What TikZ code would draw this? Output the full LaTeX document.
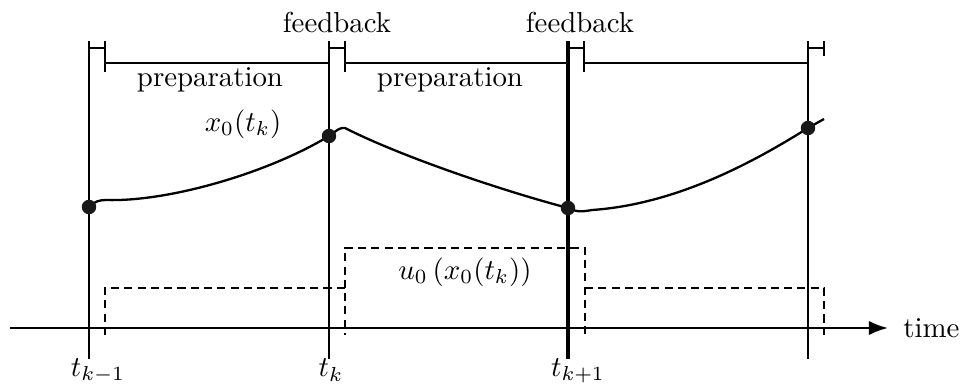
\documentclass[tikz,border=0pt]{standalone}
\usepackage{amsmath,amssymb}
\usepackage{tikz}
\usetikzlibrary{arrows.meta,calc}

\begin{document}
\begin{tikzpicture}[
    x=0.3466pt, y=-0.3466pt,
    >=Latex,
    stamp/.style    = {line width=1pt},
    stampk/.style   = {line width=1.4pt},
    bracket/.style  = {line width=1pt},
    traj/.style     = {line width=0.8pt},
    ctrl/.style     = {line width=0.8pt, dash pattern=on 2.8pt off 1.8pt},
    axis/.style     = {->, line width=0.8pt},
    dot/.style      = {circle, fill=black!90, inner sep=0pt, minimum size=5pt},
    lbl/.style      = {inner sep=1pt},
]
\useasboundingbox (0,0) rectangle (962,384);

% =============================== sampling instants ===========================
\foreach \x/\n/\s in {89/a/stamp, 329/b/stamp, 568/c/stampk, 808/d/stamp} {
    \coordinate (top\n) at (\x,41);
    \coordinate (bot\n) at (\x,359);
    \draw[\s] (top\n) -- (bot\n);
}

% =============================== preparation / feedback brackets =============
\foreach \x/\nx in {89/329, 329/568, 568/808} {
    \draw[bracket] (\x,48) -- (\x+16,48);
    \draw[bracket] (\x+16,41) -- (\x+16,72);
    \draw[bracket] (\x+16,63) -- (\nx,63);
}
\draw[bracket] (808,48) -- (824,48);
\draw[bracket] (824,41) -- (824,56);

\node[lbl] (prep1) at (210,80) {preparation};
\node[lbl] (prep2) at (450,80) {preparation};
\node[lbl] (fb1)   at (337,22) {feedback};
\node[lbl] (fb2)   at (580,22) {feedback};

% =============================== state trajectory ============================
\coordinate (p0) at (89,207);
\coordinate (p1) at (329,136);
\coordinate (p2) at (568,208);
\coordinate (p3) at (808,128);
\coordinate (pe) at (824,119);

\draw[traj] (p0) .. controls (95,201) and (100,200) .. (106,200)
                 .. controls (170,202) and (270,172) .. (p1);
\draw[traj] (p1) .. controls (336,131) and (340,127) .. (345,128)
                 .. controls (400,156) and (500,190) .. (p2);
\draw[traj] (p2) .. controls (575,212) and (581,212) .. (592,210)
                 .. controls (680,204) and (760,158) .. (p3) -- (pe);

\foreach \p in {p0,p1,p2,p3} {
    \node[dot] (d\p) at (\p) {};
}
\node[lbl] (xlab) at (243,124) {$x_0(t_k)$};

% =============================== control input ===============================
\draw[ctrl] (105,335) -- (105,288) -- (345,288) -- (345,335);
\draw[ctrl] (345,288) -- (345,248) -- (585,248) -- (585,335);
\draw[ctrl] (585,288) -- (824,288) -- (824,335);
\node[lbl] (ulab) at (465,272) {$u_0\left(x_0(t_k)\right)$};

% =============================== time axis ===================================
\coordinate (ax0) at (10,328);
\node[lbl, anchor=west] (time) at (900,328) {time};
\draw[axis] (ax0) -- ($(time.west)+(-12,0)$);

\node[lbl] (tkm) at (98,371)  {$t_{k-1}$};
\node[lbl] (tk)  at (331,370) {$t_k$};
\node[lbl] (tkp) at (578,371) {$t_{k+1}$};

\end{tikzpicture}
\end{document}
